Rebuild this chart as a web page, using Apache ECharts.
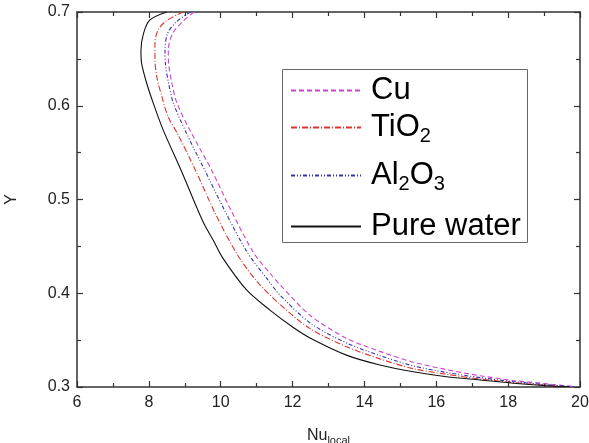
<!DOCTYPE html>
<html><head><meta charset="utf-8">
<script src="https://cdn.jsdelivr.net/npm/echarts@6/dist/echarts.min.js"></script>
<style>html,body{margin:0;padding:0;background:#fff;}#c{width:589px;height:443px;}</style>
</head><body><div id="c"></div>
<script>
// Data: [Nu_local, Y]
var seriesNames = ['Cu', 'TiO2', 'Al2O3', 'Pure water'];
var cuData = [[9.25,0.700],[8.92,0.689],[8.66,0.677],[8.54,0.659],[8.55,0.645],[8.64,0.624],[8.78,0.603],[9.17,0.572],[9.75,0.531],[10.28,0.489],[10.92,0.443],[11.40,0.420],[11.70,0.407],[12.50,0.376],[13.50,0.352],[14.43,0.338],[15.36,0.3265],[16.29,0.3185],[17.22,0.312],[18.14,0.307],[19.07,0.3035],[19.90,0.3002]];
var tio2Data = [[8.96,0.700],[8.50,0.691],[8.26,0.681],[8.17,0.667],[8.17,0.649],[8.22,0.631],[8.36,0.610],[8.54,0.588],[8.80,0.570],[9.30,0.531],[9.85,0.485],[10.45,0.442],[11.00,0.413],[11.65,0.388],[12.50,0.362],[13.50,0.343],[14.43,0.330],[15.36,0.3195],[16.29,0.3135],[17.22,0.3085],[18.14,0.3048],[19.07,0.3018],[19.75,0.3002]];
var al2o3Data = [[9.15,0.700],[8.75,0.689],[8.52,0.677],[8.45,0.659],[8.46,0.645],[8.55,0.624],[8.68,0.603],[9.03,0.572],[9.56,0.531],[10.10,0.489],[10.75,0.443],[11.30,0.415],[11.65,0.398],[12.50,0.368],[13.50,0.347],[14.43,0.3335],[15.36,0.3225],[16.29,0.3155],[17.22,0.310],[18.14,0.3058],[19.07,0.3025],[19.82,0.3002]];
var waterData = [[8.50,0.700],[8.03,0.6915],[7.85,0.677],[7.78,0.659],[7.80,0.645],[7.94,0.624],[8.12,0.603],[8.40,0.574],[8.90,0.531],[9.35,0.490],[9.55,0.473],[9.80,0.456],[10.05,0.438],[10.72,0.4035],[11.37,0.382],[12.00,0.364],[12.50,0.352],[13.50,0.334],[14.43,0.3235],[15.36,0.3163],[16.29,0.311],[17.22,0.3075],[18.14,0.304],[19.07,0.3014],[19.72,0.3003]];
var xTicks = [6, 8, 10, 12, 14, 16, 18, 20];
var yTicks = [0.3, 0.4, 0.5, 0.6, 0.7];

var FONT = 'Liberation Sans, Arial, sans-serif';
var chart = echarts.init(document.getElementById('c'), null, {renderer: 'canvas'});
var axisCommon = {
  axisLine: {show: true, onZero: false, lineStyle: {color: '#333', width: 1.5}},
  axisTick: {show: true, inside: true, length: 6, lineStyle: {color: '#333', width: 1.2}},
  minorTick: {show: true, splitNumber: 2, length: 4, lineStyle: {color: '#333', width: 1.2}},
  splitLine: {show: false}
};
function mk(extra) { return Object.assign({}, JSON.parse(JSON.stringify(axisCommon)), extra); }
var legendLabels = {'Cu': 'Cu', 'TiO2': 'TiO{sub|2}', 'Al2O3': 'Al{sub|2}O{sub|3}', 'Pure water': 'Pure water'};
var legendTops = [75, 112, 160, 211];
var colors = ['#cc44cc', '#dd3333', '#3333aa', '#111111'];
var dashes = [[5, 3], [6, 2, 1, 2], [4, 2, 1, 2, 1, 2], 'solid'];
var datas = [cuData, tio2Data, al2o3Data, waterData];

var legends = seriesNames.map(function (n, i) {
  return {
    orient: 'vertical', left: 290, top: legendTops[i],
    padding: 0, itemWidth: 70, itemHeight: 14,
    data: [n],
    itemStyle: {opacity: 0},
    formatter: function (nm) { return legendLabels[nm]; },
    textStyle: {fontSize: 31, fontFamily: FONT, color: '#000', padding: [0, 0, 0, 5],
      rich: {sub: {fontSize: 20, fontFamily: FONT, color: '#000', padding: [18, 0, 0, 0], verticalAlign: 'bottom'}}}
  };
});

chart.setOption({
  animation: false,
  backgroundColor: '#fff',
  grid: {left: 77, right: 9, top: 12, bottom: 56, outerBoundsMode: 'none', containLabel: false},
  graphic: [{type: 'rect', left: 282, top: 69, z: 1,
    shape: {width: 245, height: 173}, style: {fill: '#fff', stroke: '#666', lineWidth: 1}}],
  legend: legends,
  xAxis: [
    mk({type: 'value', position: 'bottom', min: xTicks[0], max: xTicks[xTicks.length - 1], interval: 2,
      axisLabel: {fontSize: 16, fontFamily: FONT, color: '#222', margin: 8},
      name: 'Nu{sub|local}', nameLocation: 'middle', nameGap: 38,
      nameTextStyle: {fontSize: 16, fontFamily: FONT, color: '#222',
        rich: {sub: {fontSize: 11, fontFamily: FONT, color: '#222', padding: [10, 0, 0, 0], verticalAlign: 'bottom'}}}}),
    mk({type: 'value', position: 'top', min: xTicks[0], max: xTicks[xTicks.length - 1], interval: 2,
      axisLabel: {show: false}})
  ],
  yAxis: [
    mk({type: 'value', position: 'left', min: yTicks[0], max: yTicks[yTicks.length - 1], interval: 0.1,
      axisLabel: {fontSize: 16, fontFamily: FONT, color: '#222', margin: 7,
        formatter: function (v) { return v.toFixed(1); }},
      name: 'Y', nameLocation: 'middle', nameGap: 57, nameRotate: 90,
      nameTextStyle: {fontSize: 16, fontFamily: FONT, color: '#222'}}),
    mk({type: 'value', position: 'right', min: yTicks[0], max: yTicks[yTicks.length - 1], interval: 0.1,
      axisLabel: {show: false}})
  ],
  series: seriesNames.map(function (n, i) {
    return {
      name: n, type: 'line', xAxisIndex: 0, yAxisIndex: 0,
      data: datas[i], symbol: 'none', smooth: 0.3,
      lineStyle: {color: colors[i], width: 1.1, type: dashes[i]},
      itemStyle: {color: colors[i]}
    };
  })
});
</script></body></html>
